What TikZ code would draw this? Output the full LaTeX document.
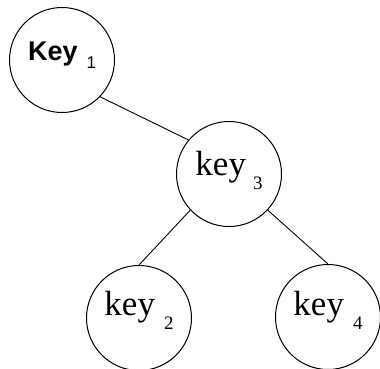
\documentclass[tikz,border=0pt]{standalone}
\usepackage{fontspec}
\setmainfont{Liberation Serif}
\newfontfamily\keysans{Liberation Sans}
\tikzset{
  keynode/.style={draw, circle, line width=1pt, minimum size=105pt, inner sep=0pt, font=\fontsize{35}{35}\selectfont},
  edge/.style={line width=0.9pt}
}
\newcommand{\ksub}[2]{\hspace{#1}\raisebox{-14pt}{\fontsize{19}{19}\selectfont #2}}
\begin{document}
\begin{tikzpicture}[x=1pt,y=-1pt]
\useasboundingbox (0,0) rectangle (380,369);
\node[keynode, text height=20pt, text depth=20pt, font=\keysans\bfseries\fontsize{27}{27}\selectfont] (k1) at (62,60) {Key\hspace{9pt}\raisebox{-8pt}{\fontsize{17}{17}\selectfont\mdseries 1}};
\node[keynode, text height=22pt, text depth=20pt] (k3) at (229,174) {key\ksub{7pt}{3}};
\node[keynode, text height=20pt, text depth=26pt] (k2) at (139,318) {key\ksub{9pt}{2}};
\node[keynode, text height=20pt, text depth=24pt] (k4) at (328,317) {key\ksub{9pt}{4}};
\draw[edge] (k1.-44) -- (k3.140);
\draw[edge] (k3.-137) -- (k2.north);
\draw[edge] (k3.-43) -- (k4.north);
\end{tikzpicture}
\end{document}
